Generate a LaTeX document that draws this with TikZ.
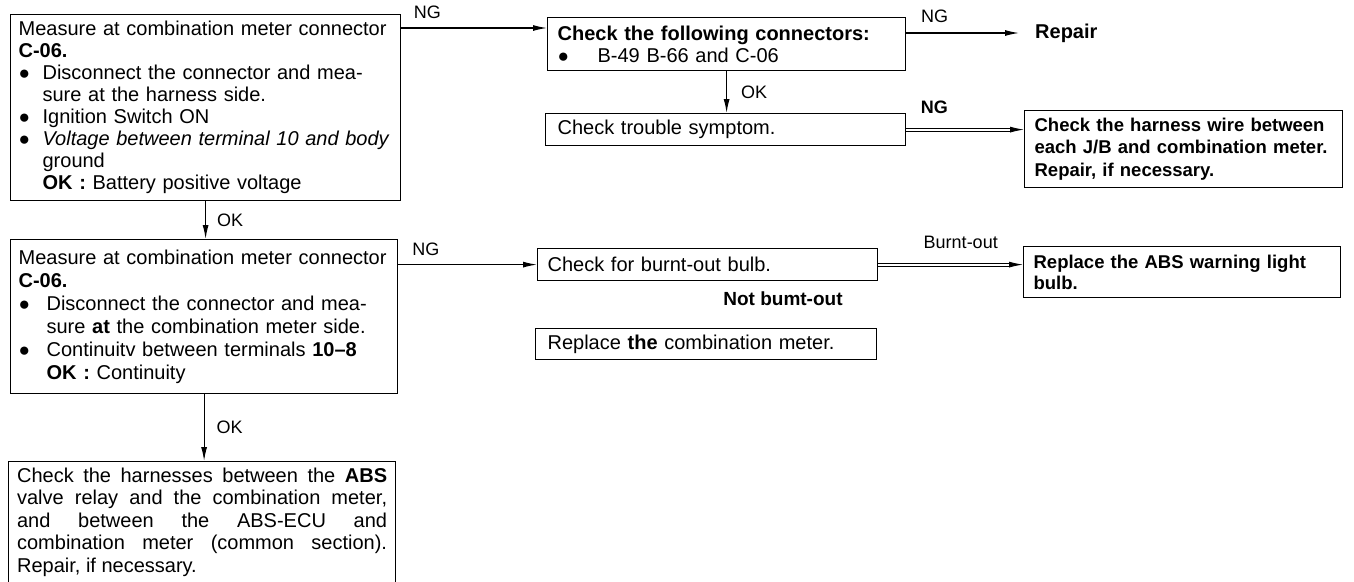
\documentclass[tikz,border=0pt]{standalone}
\usepackage{fontspec}
\setmainfont{Liberation Sans}
\usetikzlibrary{arrows.meta, calc}

\tolerance=10000
\hbadness=10000

% bullet line and indented follow-up line
\newcommand{\bul}[2][24pt]{\makebox[#1][l]{\raisebox{0pt}{\fontsize{19}{19}\selectfont ●}}#2}
\newcommand{\ind}[2][24pt]{\hspace*{#1}#2}

\begin{document}
\begin{tikzpicture}[x=1pt, y=-1pt,
  box/.style={draw, line width=1.2pt, anchor=north west, align=left, inner ysep=6pt,
    font=\fontsize{20}{22.5}\selectfont},
  boldbox/.style={box, font=\fontsize{18.5}{22.5}\selectfont\bfseries},
  flow/.style={line width=1.2pt, -{Latex[length=14pt, width=6pt]}},
  dflow/.style={flow, double, double distance=2pt, line width=0.9pt},
  lbl/.style={inner sep=2pt, font=\fontsize{18}{20}\selectfont}]
  \useasboundingbox (0,0) rectangle (1354,581);
  \fill[white] (0,0) rectangle (1354,581);

  % left column
  \node[box, text width=374pt, inner xsep=8pt, minimum height=186pt,
    font=\fontsize{20}{22}\selectfont] (meas1) at (10,14)
    {Measure at combination meter connector\\
     \textbf{C-06.}\\
     \bul{Disconnect the connector and mea-}\\
     \ind{sure at the harness side.}\\
     \bul{Ignition Switch ON}\\
     \bul{\textit{Voltage between terminal 10 and body}}\\
     \ind{ground}\\
     \ind{\textbf{OK :} Battery positive voltage}};
  \node[box, text width=371pt, inner xsep=8pt, minimum height=154pt,
    font=\fontsize{20}{23}\selectfont] (meas2) at (10,239)
    {Measure at combination meter connector\\
     \textbf{C-06.}\\
     \bul[28pt]{Disconnect the connector and mea-}\\
     \ind[28pt]{sure \textbf{at} the combination meter side.}\\
     \bul[28pt]{Continuitv between terminals \textbf{10--8}}\\
     \ind[28pt]{\textbf{OK :} Continuity}};
  \node[box, align=justify, text width=370pt, inner xsep=8.5pt] (harn) at (8,461)
    {Check the harnesses between the \textbf{ABS}\linebreak
     valve relay and the combination meter,\linebreak
     and between the ABS-ECU and\linebreak
     combination meter (common section).\linebreak
     Repair, if necessary.\par\vspace*{12pt}};

  % middle column
  \node[box, text width=338pt, inner xsep=10pt, minimum height=53pt,
    font=\fontsize{20}{22}\selectfont] (conn) at (547,17)
    {\textbf{Check the following connectors:}\\
     \bul[40pt]{B-49 B-66 and C-06}};
  \node[box, text width=336pt, inner xsep=12pt, minimum height=32pt] (trouble) at (545,113)
    {Check trouble symptom.};
  \node[box, text width=320pt, inner xsep=10pt, minimum height=32pt] (bulb) at (537,248)
    {Check for burnt-out bulb.};
  \node[box, text width=317pt, inner xsep=12pt, minimum height=31pt] (meter) at (535,328)
    {Replace \textbf{the} combination meter.};
  \node[font=\fontsize{19}{21}\selectfont\bfseries] (notburnt) at (783,299) {Not bumt-out};

  % right column
  \node[anchor=west, inner sep=0pt, font=\fontsize{20}{22}\selectfont\bfseries] (repair) at (1035,33) {Repair};
  \node[boldbox, text width=298pt, inner xsep=10pt, minimum height=77pt] (wire) at (1024,110)
    {Check the harness wire between\\
     each J/B and combination meter.\\
     Repair, if necessary.};
  \node[boldbox, text width=297pt, inner xsep=10pt, minimum height=51pt,
    font=\fontsize{18.5}{21}\selectfont\bfseries] (lamp) at (1023,246)
    {Replace the ABS warning light\\
     bulb.};

  % connectors
  \coordinate (ng1) at ([yshift=-14pt]meas1.north east);
  \draw[flow] (ng1) -- (ng1 -| conn.west) node[lbl, pos=0.18, above=6.5pt] {NG};
  \draw[flow] (meas1.south) -- (meas1.south |- meas2.north) node[lbl, midway, right=9pt] {OK};
  \draw[flow] (meas2.south) -- (meas2.south |- harn.north) node[lbl, midway, right=10pt] {OK};
  \draw[flow] (bulb.west -| meas2.east) -- (bulb.west) node[lbl, pos=0.2, above=6.5pt] {NG};
  \draw[flow, shorten >=16pt] (repair.west -| conn.east) -- (repair.west) node[lbl, pos=0.22, above=7.5pt] {NG};
  \draw[flow] (conn.south) -- (conn.south |- trouble.north) node[lbl, midway, right=12pt] {OK};
  \draw[dflow] (trouble.east) -- (trouble.east -| wire.west) node[lbl, pos=0.24, above=13pt, font=\fontsize{18}{20}\selectfont\bfseries] {NG};
  \draw[dflow] (bulb.east) -- (bulb.east -| lamp.west) node[lbl, pos=0.57, above=13pt] {Burnt-out};
\end{tikzpicture}
\end{document}
